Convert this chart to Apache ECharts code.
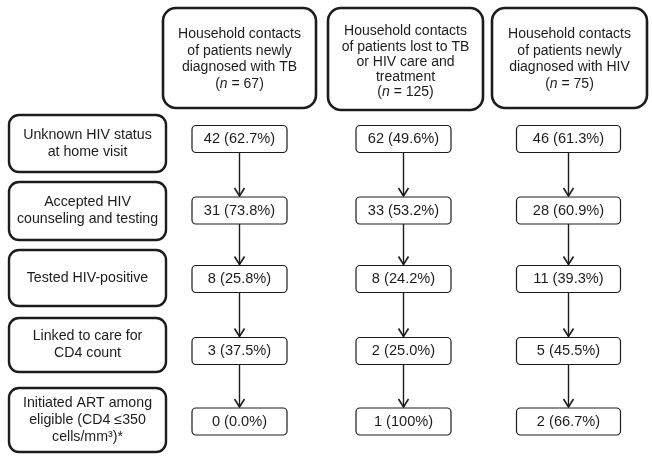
<!DOCTYPE html>
<html><head><meta charset="utf-8">
<script src="https://cdn.jsdelivr.net/npm/echarts@6/dist/echarts.min.js"></script>
<style>html,body{margin:0;padding:0;background:#fff}#c{width:652px;height:465px}</style>
</head><body><div id="c"></div>
<script>
// ---------------- data ----------------
const groupNames = [
  'Household contacts\nof patients newly\ndiagnosed with TB',
  'Household contacts\nof patients lost to TB\nor HIV care and\ntreatment',
  'Household contacts\nof patients newly\ndiagnosed with HIV'
];
const groupSizes = [67, 125, 75];
const stages = [
  'Unknown HIV status\nat home visit',
  'Accepted HIV\ncounseling and testing',
  'Tested HIV-positive',
  'Linked to care for\nCD4 count',
  'Initiated ART among\neligible (CD4 \u2264350\ncells/mm\u00b3)*'
];
const tbCounts = [42, 31, 8, 3, 0];
const tbPercents = ['62.7%', '73.8%', '25.8%', '37.5%', '0.0%'];
const lostCounts = [62, 33, 8, 2, 1];
const lostPercents = ['49.6%', '53.2%', '24.2%', '25.0%', '100%'];
const hivCounts = [46, 28, 11, 5, 2];
const hivPercents = ['61.3%', '60.9%', '39.3%', '45.5%', '66.7%'];

// ---------------- layout (drawing units) ----------------
const FONT = '"Liberation Sans", Arial, Helvetica, sans-serif';
const INK = '#1c1c1c';
const layout = {
  headerX: [239.5, 405.5, 569.5],
  headerY: [58, 59, 58],
  headerW: [153, 155, 155],
  headerH: [100, 102, 100],
  headerLH: [16.7, 15.3, 16.7],
  headerDY: [1, 3, 1],
  stageX: 87.5,
  stageW: 157,
  stageY: [143.5, 211, 278, 345, 420],
  stageH: [57, 58, 56, 54, 64],
  valX: [239.5, 403.5, 568.5],
  valY: [139, 210.5, 279, 351, 421.5],
  valW: [95, 95, 104],
  valH: 27
};

const counts = [tbCounts, lostCounts, hivCounts];
const percents = [tbPercents, lostPercents, hivPercents];

// header items
const headerItems = groupNames.map((name, i) => {
  const lines = name.split('\n').map(l => '{t|' + l + '}');
  lines.push('{t|(}{i|n}{t| = ' + groupSizes[i] + ')}');
  return { value: [layout.headerX[i], layout.headerY[i]], w: layout.headerW[i], h: layout.headerH[i],
    lh: layout.headerLH[i], dy: layout.headerDY[i], text: lines.join('\n') };
});
const stageItems = stages.map((s, r) => ({
  value: [layout.stageX, layout.stageY[r]], w: layout.stageW, h: layout.stageH[r], text: s
}));
const valueItems = [];
counts.forEach((arr, c) => arr.forEach((v, r) => {
  valueItems.push({ value: [layout.valX[c], layout.valY[r]], w: layout.valW[c], h: layout.valH,
    text: v + ' (' + percents[c][r] + ')' });
}));
const arrowItems = [];
counts.forEach((arr, c) => {
  for (let r = 0; r < arr.length - 1; r++) {
    arrowItems.push({ value: [layout.valX[c], layout.valY[r] + layout.valH / 2, layout.valY[r + 1] - layout.valH / 2] });
  }
});

function boxRenderer(items, opt) {
  return function (params, api) {
    const it = items[params.dataIndex];
    const c = api.coord([it.value[0], it.value[1]]);
    const s = api.size([it.w, it.h], it.value);
    const lh = it.lh || opt.lh;
    let rich;
    if (opt.rich) {
      rich = {
        t: { fontSize: opt.fs, lineHeight: lh, fontFamily: FONT, fill: INK },
        i: { fontSize: opt.fs, lineHeight: lh, fontFamily: FONT, fontStyle: 'italic', fill: INK }
      };
    }
    return {
      type: 'rect',
      shape: { x: c[0] - s[0] / 2, y: c[1] - s[1] / 2, width: s[0], height: s[1], r: opt.r },
      style: { fill: '#fff', stroke: INK, lineWidth: opt.lw },
      textContent: {
        style: Object.assign({
          text: it.text, fill: INK, fontFamily: FONT, fontSize: opt.fs, lineHeight: lh,
          align: 'center', verticalAlign: 'middle'
        }, rich ? { rich: rich } : {})
      },
      textConfig: { position: 'inside', offset: [0, it.dy || 0] }
    };
  };
}

function arrowRenderer(params, api) {
  const it = arrowItems[params.dataIndex];
  const p0 = api.coord([it.value[0], it.value[1]]);
  const p1 = api.coord([it.value[0], it.value[2]]);
  const hw = 5, hl = 9;
  return {
    type: 'group',
    children: [
      { type: 'line', shape: { x1: p0[0], y1: p0[1], x2: p1[0], y2: p1[1] - 1 },
        style: { stroke: INK, lineWidth: 1.4 } },
      { type: 'polyline', shape: { points: [[p1[0] - hw, p1[1] - hl], [p1[0], p1[1] - 1], [p1[0] + hw, p1[1] - hl]] },
        style: { stroke: INK, lineWidth: 1.6, fill: null } }
    ]
  };
}

const chart = echarts.init(document.getElementById('c'), null, { renderer: 'canvas' });
chart.setOption({
  animation: false,
  backgroundColor: '#fff',
  grid: { left: 0, right: 0, top: 0, bottom: 0 },
  xAxis: { type: 'value', min: 0, max: 652, show: false },
  yAxis: { type: 'value', min: 0, max: 465, inverse: true, show: false },
  series: [
    { type: 'custom', coordinateSystem: 'cartesian2d', data: arrowItems.map(d => d.value),
      renderItem: arrowRenderer, silent: true },
    { type: 'custom', coordinateSystem: 'cartesian2d', data: headerItems.map(d => d.value), silent: true,
      renderItem: boxRenderer(headerItems, { r: 13, lw: 2.6, fs: 14, lh: 16, rich: true }) },
    { type: 'custom', coordinateSystem: 'cartesian2d', data: stageItems.map(d => d.value), silent: true,
      renderItem: boxRenderer(stageItems, { r: 10, lw: 2.4, fs: 14.2, lh: 17 }) },
    { type: 'custom', coordinateSystem: 'cartesian2d', data: valueItems.map(d => d.value), silent: true,
      renderItem: boxRenderer(valueItems, { r: 4, lw: 1.2, fs: 14.6, lh: 16 }) }
  ]
});
</script></body></html>
